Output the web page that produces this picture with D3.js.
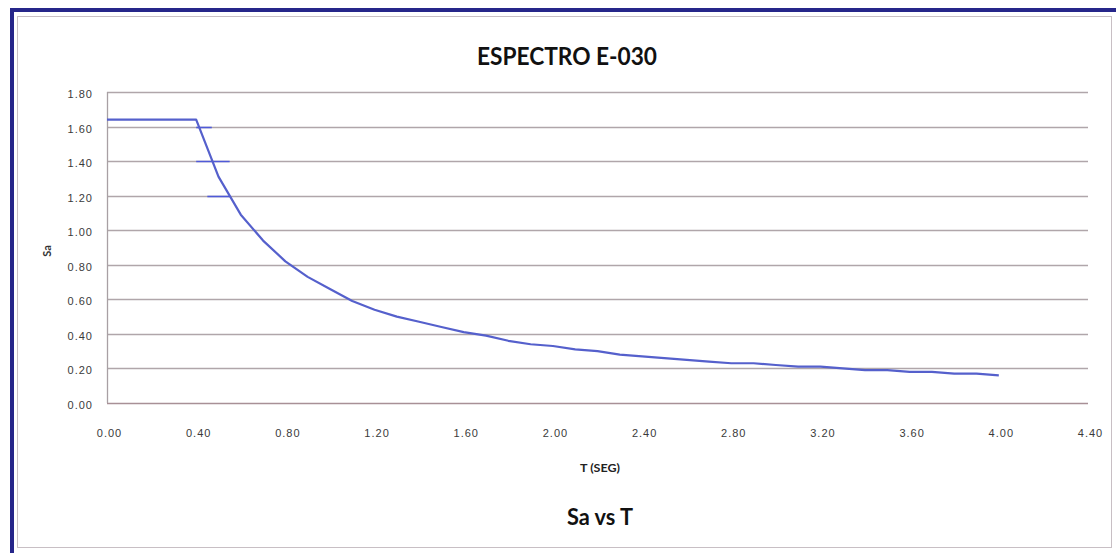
<!DOCTYPE html>
<html>
<head>
<meta charset="utf-8">
<script src="https://cdn.jsdelivr.net/npm/d3@7"></script>
<style>
  html, body { margin: 0; padding: 0; background: #ffffff; }
  svg { display: block; }
</style>
</head>
<body>
<svg id="chart" width="1116" height="553"></svg>
<script>
// periodo T (s) y aceleracion espectral Sa
const periods = [0.0, 0.1, 0.2, 0.3, 0.4, 0.5, 0.6, 0.7, 0.8, 0.9, 1.0,
  1.1, 1.2, 1.3, 1.4, 1.5, 1.6, 1.7, 1.8, 1.9, 2.0,
  2.1, 2.2, 2.3, 2.4, 2.5, 2.6, 2.7, 2.8, 2.9, 3.0,
  3.1, 3.2, 3.3, 3.4, 3.5, 3.6, 3.7, 3.8, 3.9, 4.0];
const saValues = [1.64, 1.64, 1.64, 1.64, 1.64, 1.31, 1.09, 0.94, 0.82, 0.73, 0.66,
  0.59, 0.54, 0.50, 0.47, 0.44, 0.41, 0.39, 0.36, 0.34, 0.33,
  0.31, 0.30, 0.28, 0.27, 0.26, 0.25, 0.24, 0.23, 0.23, 0.22,
  0.21, 0.21, 0.20, 0.19, 0.19, 0.18, 0.18, 0.17, 0.17, 0.16];

const xTicks = [0, 0.4, 0.8, 1.2, 1.6, 2.0, 2.4, 2.8, 3.2, 3.6, 4.0, 4.4];
const yTicks = [0, 0.2, 0.4, 0.6, 0.8, 1.0, 1.2, 1.4, 1.6, 1.8];

// trozos azules sobre la rejilla junto a la curva: [Sa, T inicio, T fin]
const blueBits = [[1.6, 0.40, 0.47], [1.4, 0.40, 0.55], [1.2, 0.45, 0.55]];

const title = 'ESPECTRO E-030';
const xTitle = 'T (SEG)';
const yTitle = 'Sa';
const footer = 'Sa vs T';

const svg = d3.select('#chart');

const margin = { top: 92, right: 28, bottom: 150, left: 107 };
const width = +svg.attr('width') - margin.left - margin.right;
const height = +svg.attr('height') - margin.top - margin.bottom;

const x = d3.scaleLinear().domain([0, 4.4]).range([0, width]);
const y = d3.scaleLinear().domain([0, 1.8]).range([height, 0]);

// marco exterior
svg.append('rect')
  .attr('x', 12)
  .attr('y', 10)
  .attr('width', 1116)
  .attr('height', 560)
  .attr('fill', 'none')
  .attr('stroke', '#26268a')
  .attr('stroke-width', 4);

svg.append('rect')
  .attr('x', 17.5)
  .attr('y', 16.5)
  .attr('width', 1094)
  .attr('height', 531)
  .attr('fill', '#ffffff')
  .attr('stroke', '#c8bfc4')
  .attr('stroke-width', 1);

const g = svg.append('g')
  .attr('transform', `translate(${margin.left},${margin.top})`);

g.append('g')
  .attr('id', 'grid')
  .selectAll('line')
  .data(yTicks)
  .enter()
  .append('line')
  .attr('x1', 0)
  .attr('x2', width)
  .attr('y1', d => Math.round(y(d)) + 0.5)
  .attr('y2', d => Math.round(y(d)) + 0.5)
  .attr('stroke', d => (d === 0 ? '#a89096' : '#b0a6aa'))
  .attr('stroke-width', 1.3);

g.append('line')
  .attr('x1', 0.5)
  .attr('x2', 0.5)
  .attr('y1', y(1.8))
  .attr('y2', y(0))
  .attr('stroke', '#a8a0a4')
  .attr('stroke-width', 1.3);

const yAxis = d3.axisLeft(y)
  .tickValues(yTicks)
  .tickSize(0)
  .tickPadding(14)
  .tickFormat(d3.format('.2f'));

g.append('g')
  .attr('id', 'yAxis')
  .attr('transform', 'translate(0,2)')
  .call(yAxis)
  .call(a => a.select('.domain').remove())
  .selectAll('text')
  .attr('fill', '#3a3a3a')
  .style('font-family', '"Liberation Sans", Arial, sans-serif')
  .style('font-size', '11px')
  .style('letter-spacing', '1px');

const xAxis = d3.axisBottom(x)
  .tickValues(xTicks)
  .tickSize(0)
  .tickPadding(26)
  .tickFormat(d3.format('.2f'));

g.append('g')
  .attr('id', 'xAxis')
  .attr('transform', `translate(2,${height})`)
  .call(xAxis)
  .call(a => a.select('.domain').remove())
  .selectAll('text')
  .attr('fill', '#3a3a3a')
  .style('font-family', '"Liberation Sans", Arial, sans-serif')
  .style('font-size', '11px')
  .style('letter-spacing', '1px');

g.append('g')
  .attr('id', 'bits')
  .selectAll('line')
  .data(blueBits)
  .enter()
  .append('line')
  .attr('x1', d => x(d[1]))
  .attr('x2', d => x(d[2]))
  .attr('y1', d => Math.round(y(d[0])) + 0.5)
  .attr('y2', d => Math.round(y(d[0])) + 0.5)
  .attr('stroke', '#4f5ad8')
  .attr('stroke-width', 1.6);

const line = d3.line()
  .x((d, i) => x(periods[i]))
  .y(d => y(d));

g.append('path')
  .datum(saValues)
  .attr('d', line)
  .attr('fill', 'none')
  .attr('stroke', '#5560cc')
  .attr('stroke-width', 2.2)
  .attr('stroke-linejoin', 'round');

svg.append('text')
  .attr('x', 567)
  .attr('y', 65)
  .attr('text-anchor', 'middle')
  .attr('textLength', 180)
  .attr('lengthAdjust', 'spacingAndGlyphs')
  .style('font-family', 'Lato, "Open Sans", sans-serif')
  .style('font-weight', 'bold')
  .style('font-size', '24px')
  .attr('fill', '#111111')
  .text(title);

svg.append('text')
  .attr('x', 600)
  .attr('y', 472)
  .attr('text-anchor', 'middle')
  .attr('textLength', 40)
  .attr('lengthAdjust', 'spacingAndGlyphs')
  .style('font-family', 'Lato, "Open Sans", sans-serif')
  .style('font-weight', 'bold')
  .style('font-size', '12px')
  .attr('fill', '#222222')
  .text(xTitle);

svg.append('text')
  .attr('x', 600)
  .attr('y', 525)
  .attr('text-anchor', 'middle')
  .attr('textLength', 66)
  .attr('lengthAdjust', 'spacingAndGlyphs')
  .style('font-family', 'Lato, "Open Sans", sans-serif')
  .style('font-weight', 'bold')
  .style('font-size', '22px')
  .attr('fill', '#111111')
  .text(footer);

svg.append('text')
  .attr('transform', 'translate(51,251) rotate(-90)')
  .attr('text-anchor', 'middle')
  .style('font-family', 'Lato, "Open Sans", sans-serif')
  .style('font-weight', 'bold')
  .style('font-size', '11px')
  .attr('fill', '#333333')
  .text(yTitle);
</script>
</body>
</html>
